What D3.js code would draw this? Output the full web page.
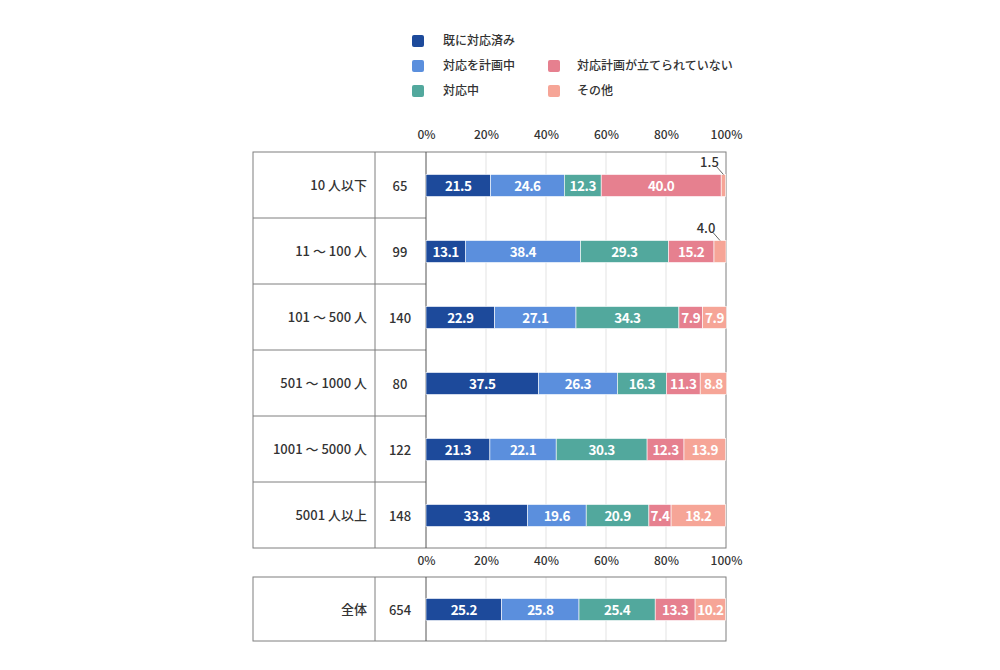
<!DOCTYPE html>
<html>
<head>
<meta charset="utf-8">
<script src="https://cdn.jsdelivr.net/npm/d3@7"></script>
<style>
  body { margin: 0; background: #fff; }
  text { font-family: "Noto Sans CJK JP", "Noto Sans", sans-serif; }
</style>
</head>
<body>
<script>
// data
var categories = ["10 人以下", "11 ～ 100 人", "101 ～ 500 人", "501 ～ 1000 人", "1001 ～ 5000 人", "5001 人以上"];
var counts = [65, 99, 140, 80, 122, 148];
var seriesNames = ["既に対応済み", "対応を計画中", "対応中", "対応計画が立てられていない", "その他"];
var done       = [21.5, 13.1, 22.9, 37.5, 21.3, 33.8];
var planning   = [24.6, 38.4, 27.1, 26.3, 22.1, 19.6];
var inProgress = [12.3, 29.3, 34.3, 16.3, 30.3, 20.9];
var noPlan     = [40.0, 15.2, 7.9, 11.3, 12.3, 7.4];
var other      = [1.5, 4.0, 7.9, 8.8, 13.9, 18.2];
var totalLabel = "全体";
var totalCount = 654;
var totalValues = [25.2, 25.8, 25.4, 13.3, 10.2];
var tickValues = [0, 20, 40, 60, 80, 100];

var colors = ["#1d4a9b", "#5b8fdd", "#52a89d", "#e6808f", "#f6a597"];
var seriesValues = [done, planning, inProgress, noPlan, other];

var width = 1000, height = 670;
var svg = d3.select("body").append("svg")
    .attr("width", width)
    .attr("height", height);

// table geometry
var tableLeft = 253, colDiv = 375, plotLeft = 426, plotRight = 726;
var barH = 22;
var lineColor = "#7f7f7f";

var x = d3.scaleLinear().domain([0, 100]).range([plotLeft, plotRight]);
var y = d3.scaleBand().domain(categories).range([152, 548]);
var yTotal = d3.scaleBand().domain([totalLabel]).range([577, 641]);

// build stacked rows
function stackRow(vals) {
  var acc = 0;
  return vals.map(function(v, i) {
    var seg = {i: i, v: v, x0: acc, x1: acc + v};
    acc += v;
    return seg;
  });
}
var rows = categories.map(function(c, r) {
  return {cat: c, n: counts[r], segs: stackRow(seriesValues.map(function(s) { return s[r]; }))};
});
var totalRow = {cat: totalLabel, n: totalCount, segs: stackRow(totalValues)};

// legend
var legend = svg.append("g").attr("class", "legend");
var legendPos = [[412, 41], [412, 66], [412, 91], [548, 66], [548, 91]];
seriesNames.forEach(function(name, i) {
  var p = legendPos[i];
  legend.append("rect")
      .attr("x", p[0]).attr("y", p[1] - 6)
      .attr("width", 12).attr("height", 12)
      .attr("rx", 2)
      .attr("fill", colors[i]);
  legend.append("text")
      .attr("x", p[0] + (i < 3 ? 31 : 29)).attr("y", p[1] + 4)
      .attr("font-size", 12)
      .attr("font-weight", 500)
      .attr("fill", "#333")
      .text(name);
});

function drawAxis(yPos) {
  var ax = svg.append("g")
      .attr("transform", "translate(0," + yPos + ")")
      .call(d3.axisTop(x).tickValues(tickValues).tickSize(0).tickFormat(function(d) { return d + "%"; }));
  ax.select(".domain").remove();
  ax.selectAll("text")
      .attr("font-size", 12)
      .attr("font-weight", 500)
      .attr("fill", "#333")
      .style("font-family", "'Noto Sans CJK JP', sans-serif");
}

function drawSection(scale, data, top, bottom) {
  var g = svg.append("g");
  var bw = scale.bandwidth();

  // grid
  g.selectAll("line.grid")
    .data(tickValues.slice(1, -1))
    .enter().append("line")
      .attr("x1", function(d) { return x(d); }).attr("x2", function(d) { return x(d); })
      .attr("y1", top).attr("y2", bottom)
      .attr("stroke", "#e3e3e3").attr("stroke-width", 1);

  // row separators in label columns
  g.selectAll("line.sep")
    .data(data.slice(1))
    .enter().append("line")
      .attr("x1", tableLeft).attr("x2", plotLeft)
      .attr("y1", function(d) { return scale(d.cat); })
      .attr("y2", function(d) { return scale(d.cat); })
      .attr("stroke", lineColor);

  // outer frame + column lines
  g.append("rect")
      .attr("x", tableLeft).attr("y", top)
      .attr("width", plotRight - tableLeft).attr("height", bottom - top)
      .attr("fill", "none").attr("stroke", lineColor);
  g.append("line").attr("x1", colDiv).attr("x2", colDiv).attr("y1", top).attr("y2", bottom).attr("stroke", lineColor);
  g.append("line").attr("x1", plotLeft).attr("x2", plotLeft).attr("y1", top).attr("y2", bottom).attr("stroke", "#555");

  // labels
  g.selectAll("text.cat")
    .data(data)
    .enter().append("text")
      .attr("x", 367)
      .attr("y", function(d) { return scale(d.cat) + bw / 2 + 5; })
      .attr("text-anchor", "end")
      .attr("font-size", 13)
      .attr("font-weight", 500)
      .attr("fill", "#333")
      .text(function(d) { return d.cat; });
  g.selectAll("text.n")
    .data(data)
    .enter().append("text")
      .attr("x", 400)
      .attr("y", function(d) { return scale(d.cat) + bw / 2 + 6; })
      .attr("text-anchor", "middle")
      .attr("font-size", 13)
      .attr("font-weight", 500)
      .attr("fill", "#333")
      .text(function(d) { return d.n; });

  // bars
  var rowG = g.selectAll("g.row")
    .data(data)
    .enter().append("g")
      .attr("transform", function(d) { return "translate(0," + (scale(d.cat) + (bw - barH) / 2 + 0.5) + ")"; });

  rowG.selectAll("rect")
    .data(function(d) { return d.segs; })
    .enter().append("rect")
      .attr("x", function(d) { return x(d.x0); })
      .attr("width", function(d) { return x(d.x1) - x(d.x0); })
      .attr("height", barH)
      .attr("fill", function(d) { return colors[d.i]; })
      .attr("stroke", "#fff").attr("stroke-width", 0.6);

  rowG.selectAll("text.val")
    .data(function(d) { return d.segs.filter(function(s) { return s.v >= 5; }); })
    .enter().append("text")
      .attr("x", function(d) { return x((d.x0 + d.x1) / 2); })
      .attr("y", barH / 2 + 5)
      .attr("text-anchor", "middle")
      .attr("font-size", 13.5)
      .attr("font-weight", "bold")
      .attr("fill", "#fff")
      .style("letter-spacing", "-0.5px")
      .text(function(d) { return d.v.toFixed(1); });

  // callouts for thin segments
  var small = rowG.selectAll("g.callout")
    .data(function(d) { return d.segs.filter(function(s) { return s.v < 5; }); })
    .enter().append("g");
  small.append("line")
      .attr("x1", function(d) { return x((d.x0 + d.x1) / 2) - 7; })
      .attr("y1", -8)
      .attr("x2", function(d) { return x((d.x0 + d.x1) / 2); })
      .attr("y2", 0)
      .attr("stroke", "#666").attr("stroke-width", 1);
  small.append("text")
      .attr("x", function(d) { return x((d.x0 + d.x1) / 2) - 14; })
      .attr("y", -8)
      .attr("text-anchor", "middle")
      .attr("font-size", 13)
      .attr("font-weight", 500)
      .attr("fill", "#333")
      .text(function(d) { return d.v.toFixed(1); });
}

drawAxis(142);
drawSection(y, rows, 152, 548);
drawAxis(568);
drawSection(yTotal, [totalRow], 577, 641);
</script>
</body>
</html>
